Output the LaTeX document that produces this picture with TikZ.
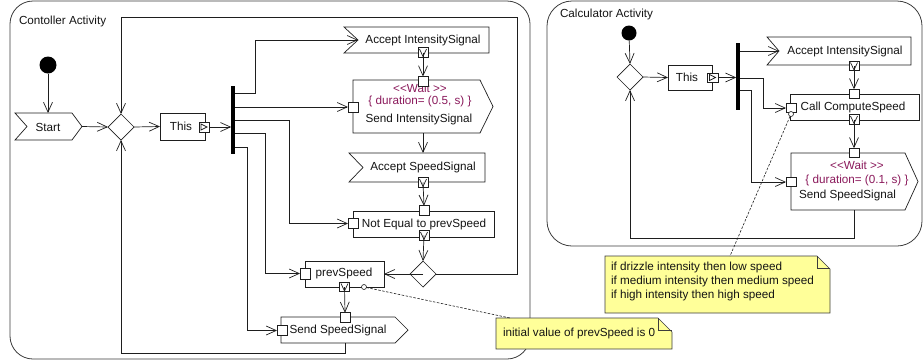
\documentclass[tikz,border=0pt]{standalone}
\usepackage{fontspec}
\setmainfont{Liberation Sans}
\usetikzlibrary{arrows.meta,shapes.geometric,calc}
\definecolor{ln}{HTML}{1E1E1E}
\definecolor{frm}{HTML}{3C3C3C}
\definecolor{wt}{HTML}{8B1A5C}
\definecolor{notey}{HTML}{FFFF99}
\newcommand\vpin[3]{\node[pinsq] (#1) at (#2,#3) {};
  \draw[plain] ($(#1)+(-3.5,-3.5)$) -- ($(#1)+(0,4)$) -- ($(#1)+(3.5,-3.5)$);}
\begin{document}
\begin{tikzpicture}[x=1pt,y=-1pt,
  font=\fontsize{11.7}{14}\selectfont,
  every node/.style={inner sep=0pt, outer sep=0pt, text=black!92},
  flow/.style={draw=ln, line width=0.7pt, -{Straight Barb[length=10pt,width=9pt]}},
  plain/.style={draw=ln, line width=0.7pt},
  act/.style={draw=ln, line width=0.7pt, fill=white, rectangle},
  ghost/.style={rectangle},
  pinsq/.style={draw=ln, line width=0.7pt, fill=white, rectangle, minimum width=10pt, minimum height=9.5pt},
  dec/.style={diamond, draw=ln, line width=0.7pt, fill=white, minimum width=26pt, minimum height=26pt},
  initnode/.style={circle, fill=black},
  forkbar/.style={rectangle, fill=black, minimum width=3.5pt},
  framebox/.style={draw=frm, line width=0.8pt},
  notebox/.style={draw=frm, line width=0.7pt, fill=notey},
  anchorcirc/.style={circle, draw=ln, line width=0.6pt, fill=white, minimum size=5pt},
  notelink/.style={draw=ln, line width=0.6pt, dashed, dash pattern=on 2.5pt off 1.5pt},
  waittext/.style={text=wt}
]
\useasboundingbox (0,0) rectangle (923,360);

%================ Controller Activity =================
\draw[framebox, rounded corners=23pt] (10,1) rectangle (530,359);
\node[anchor=west] (t1) at (19,21) {Contoller Activity};

\node[initnode, minimum size=17pt] (i1) at (48,65) {};

\node[ghost, minimum width=57pt, minimum height=27pt] (start) at (43.5,126.5) {};
\draw[act] (start.north west) -- (start.north east) -- ($(start.east)+(10,0)$) -- (start.south east) -- (start.south west) -- ($(start.west)+(12,0)$) -- cycle;
\node (startt) at (48,127) {Start};

\node[dec] (m1) at (121,127) {};

\node[act, minimum width=45pt, minimum height=27pt] (this1) at (182.5,126.5) {};
\node (this1t) at (181,126.5) {This};
\node[pinsq, minimum height=10pt] (this1p) at (204,127) {};
\draw[plain] ($(this1p)+(-3,-3)$) -- ($(this1p)+(3,0)$) -- ($(this1p)+(-3,3)$) -- cycle;

\node[forkbar, minimum height=68pt] (fork1) at (233,120) {};

% Accept IntensitySignal
\node[ghost, minimum width=145pt, minimum height=26pt] (ais1) at (416.5,40) {};
\draw[act] (ais1.north west) -- (ais1.north east) -- (ais1.south east) -- (ais1.south west) -- ($(ais1.west)+(14,0)$) -- cycle;
\node (ais1t) at (423,40) {Accept IntensitySignal};
\vpin{ais1o}{423}{52.5}

% Send IntensitySignal
\node[ghost, minimum width=127pt, minimum height=53pt] (sis1) at (416.5,106.5) {};
\draw[act] (sis1.north west) -- (sis1.north east) -- ($(sis1.east)+(13,0)$) -- (sis1.south east) -- (sis1.south west) -- cycle;
\node[waittext] (sis1a) at (420,88) {{<}{<}Wait {>}{>}};
\node[waittext] (sis1b) at (420,101.5) {\{ duration= (0.5, s) \}};
\node (sis1c) at (419,119) {Send IntensitySignal};
\node[pinsq, minimum height=10pt] (sis1t) at (423,81.5) {};
\node[pinsq, minimum height=10pt] (sis1l) at (353,107) {};

% Accept SpeedSignal
\node[ghost, minimum width=136pt, minimum height=29pt] (ass1) at (417,167.5) {};
\draw[act] (ass1.north west) -- (ass1.north east) -- (ass1.south east) -- (ass1.south west) -- ($(ass1.west)+(14,0)$) -- cycle;
\node (ass1t) at (423,167.5) {Accept SpeedSignal};
\vpin{ass1o}{423}{182.5}

% Not Equal to prevSpeed
\node[act, minimum width=141pt, minimum height=26pt] (neq) at (423.5,224) {};
\node (neqtx) at (424,224) {Not Equal to prevSpeed};
\node[pinsq] (neqt) at (424,210.5) {};
\node[pinsq] (neql) at (353,223.5) {};
\vpin{neqo}{424}{235.5}

\node[dec] (dec1) at (423,274) {};

% prevSpeed
\node[act, minimum width=79pt, minimum height=26pt] (prev) at (344.5,274) {};
\node (prevtx) at (344,273.5) {prevSpeed};
\node[pinsq, minimum height=11pt] (prevl) at (305,273.5) {};
\vpin{prevo}{344.5}{287}
\node[anchorcirc] (c1) at (364,287) {};

% Send SpeedSignal
\node[ghost, minimum width=114pt, minimum height=26pt] (sss1) at (338,330) {};
\draw[act] (sss1.north west) -- (sss1.north east) -- ($(sss1.east)+(13,0)$) -- (sss1.south east) -- (sss1.south west) -- cycle;
\node (sss1tx) at (338,330) {Send SpeedSignal};
\node[pinsq] (ssst) at (345,317.5) {};
\node[pinsq] (sssl) at (282,330.5) {};

% connectors
\draw[flow] (i1) -- (i1 |- start.north);
\draw[flow] ($(start.east)+(10,0)$) -- (m1.west);
\draw[flow] (m1.east) -- (this1.west);
\draw[flow] (this1p.east) -- (fork1.west |- this1p.east);
\draw[flow] (fork1.east |- 0,93) -- (255,93) |- ($(ais1.west)+(14,0)$);
\draw[flow] (fork1.east |- sis1l.west) -- (sis1l.west);
\draw[flow] (fork1.east |- 0,120) -- (289,120) |- (neql.west);
\draw[flow] (fork1.east |- 0,133) -- (265,133) |- (prevl.west);
\draw[flow] (fork1.east |- 0,147) -- (247,147) |- (sssl.west);
\draw[flow] (ais1o.center) -- (sis1t.north);
\draw[flow] (ais1o |- sis1.south) -- (ais1o |- ass1.north);
\draw[flow] (ass1o.center) -- (neqt.north);
\draw[flow] (neqo.center) -- (dec1.north);
\draw[flow] (dec1.center) -- (prev.east);
\draw[flow] (dec1.east) -- (517,274) -- (517,17) -- (m1 |- 0,17) -- (m1.north);
\draw[flow] (prevo.center) -- (ssst.north);
\draw[flow] (ssst |- sss1.south) -- (345,353) -- (m1 |- 0,353) -- (m1.south);

% note 1
\node[ghost, minimum width=176pt, minimum height=31pt] (note1) at (584,333.5) {};
\draw[notebox] (note1.north west) -- ($(note1.north east)+(-14,0)$) -- ($(note1.north east)+(0,14)$) -- (note1.south east) -- (note1.south west) -- cycle;
\draw[plain, draw=frm] ($(note1.north east)+(-14,0)$) -- ($(note1.north east)+(-14,12)$) -- ($(note1.north east)+(0,12)$);
\node[anchor=west] (note1t) at (503,333) {initial value of prevSpeed is 0};
\draw[notelink] (c1) -- ($(note1.north west)+(14,0)$);

%================ Calculator Activity =================
\draw[framebox, rounded corners=25pt] (547,1) rectangle (922,246);
\node[anchor=west] (t2) at (560,14) {Calculator Activity};

\node[initnode, minimum size=15pt] (i2) at (629,33) {};
\node[dec] (m2) at (630,77) {};

\node[act, minimum width=44pt, minimum height=25pt] (this2) at (690,77.5) {};
\node (this2t) at (687,77) {This};
\node[pinsq, minimum width=11pt, minimum height=9pt] (this2p) at (712.5,77.5) {};
\draw[plain] ($(this2p)+(-3,-3)$) -- ($(this2p)+(3,0)$) -- ($(this2p)+(-3,3)$) -- cycle;

\node[forkbar, minimum height=67pt] (fork2) at (738,76.5) {};

% Accept IntensitySignal
\node[ghost, minimum width=144pt, minimum height=28pt] (ais2) at (839,51) {};
\draw[act] (ais2.north west) -- (ais2.north east) -- (ais2.south east) -- (ais2.south west) -- ($(ais2.west)+(12,0)$) -- cycle;
\node (ais2t) at (845,51) {Accept IntensitySignal};
\vpin{ais2o}{854}{66}

% Call ComputeSpeed
\node[act, minimum width=129pt, minimum height=26pt] (call) at (854.5,107) {};
\node (calltx) at (853,107) {Call ComputeSpeed};
\node[pinsq] (callt) at (854,94) {};
\node[pinsq] (calll) at (791,108) {};
\vpin{callo}{854}{119.5}
\node[anchorcirc] (c2) at (791,114) {};

% Send SpeedSignal
\node[ghost, minimum width=114pt, minimum height=57pt] (sss2) at (848,181.5) {};
\draw[act] (sss2.north west) -- (sss2.north east) -- ($(sss2.east)+(13,0)$) -- (sss2.south east) -- (sss2.south west) -- cycle;
\node[waittext] (sss2a) at (857,165) {{<}{<}Wait {>}{>}};
\node[waittext] (sss2b) at (857,180) {\{ duration= (0.1, s) \}};
\node[anchor=west] (sss2c) at (799,195) {Send SpeedSignal};
\node[pinsq] (sss2t) at (854,153) {};
\node[pinsq] (sss2l) at (791,182) {};

% connectors
\draw[flow] (i2) -- (m2.north);
\draw[flow] (m2.east) -- (this2.west);
\draw[flow] (this2p.east) -- (fork2.west |- this2p.east);
\draw[flow] (fork2.east |- ais2.west) -- ($(ais2.west)+(12,0)$);
\draw[flow] (fork2.east |- 0,78) -- (763,78) |- (calll.west);
\draw[flow] (fork2.east |- 0,90) -- (751,90) |- (sss2l.west);
\draw[flow] (ais2o.center) -- (callt.north);
\draw[flow] (callo.center) -- (sss2t.north);
\draw[flow] (sss2t |- sss2.south) -- (854,238) -- (m2 |- 0,238) -- (m2.south);

% note 2
\node[ghost, minimum width=225pt, minimum height=57pt] (note2) at (717.5,284.5) {};
\draw[notebox] (note2.north west) -- ($(note2.north east)+(-13,0)$) -- ($(note2.north east)+(0,13)$) -- (note2.south east) -- (note2.south west) -- cycle;
\draw[plain, draw=frm] ($(note2.north east)+(-13,0)$) -- ($(note2.north east)+(-13,12)$) -- ($(note2.north east)+(0,12)$);
\node[anchor=north west, align=left] (note2t) at (611,262) {if drizzle intensity then low speed\\if medium intensity then medium speed\\if high intensity then high speed};
\draw[notelink] (c2) -- ($(note2.north west)+(125,0)$);
\end{tikzpicture}
\end{document}
